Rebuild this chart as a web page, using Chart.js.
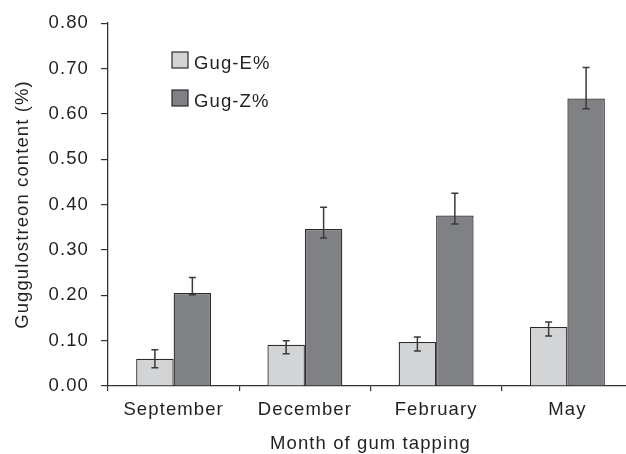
<!DOCTYPE html>
<html>
<head>
<meta charset="utf-8">
<script src="https://cdn.jsdelivr.net/npm/chart.js@4/dist/chart.umd.min.js"></script>
<style>
  html, body { margin: 0; padding: 0; background: #ffffff; overflow: hidden; }
  #wrap { width: 640px; height: 454px; position: relative; }
</style>
</head>
<body>
<div id="wrap"><canvas id="c"></canvas></div>
<script>
// Month of gum tapping
const months = ['September', 'December', 'February', 'May'];

// Mean guggulsterone content (%)
const gugE = [0.060, 0.091, 0.097, 0.130];
const gugZ = [0.205, 0.346, 0.376, 0.634];

// Error bar extents above / below each mean
const gugEUp   = [0.020, 0.009, 0.011, 0.011];
const gugEDown = [0.020, 0.020, 0.020, 0.020];
const gugZUp   = [0.034, 0.048, 0.049, 0.068];
const gugZDown = [0.004, 0.020, 0.019, 0.023];

const seriesNames = ['Gug-E%', 'Gug-Z%'];
const yTicks = [0, 0.1, 0.2, 0.3, 0.4, 0.5, 0.6, 0.7, 0.8];

const ink = '#231f20';
const fontFamily = '"Liberation Sans", Arial, Helvetica, sans-serif';
const fontSize = 18.5;
const tracking = '1.1px';

// Slightly open tracking for all canvas text
const textTracking = {
  id: 'textTracking',
  beforeLayout(chart) { chart.ctx.letterSpacing = tracking; },
  beforeDraw(chart) { chart.ctx.letterSpacing = tracking; }
};

const errorBars = {
  id: 'errorBars',
  afterDatasetsDraw(chart) {
    const ctx = chart.ctx;
    const y = chart.scales.y;
    const ups = [gugEUp, gugZUp];
    const downs = [gugEDown, gugZDown];
    ctx.save();
    ctx.strokeStyle = '#3a3a3a';
    ctx.lineWidth = 1.5;
    chart.data.datasets.forEach((ds, di) => {
      const meta = chart.getDatasetMeta(di);
      meta.data.forEach((bar, i) => {
        const v = ds.data[i];
        const x = bar.x;
        const yTop = y.getPixelForValue(v + ups[di][i]);
        const yBot = y.getPixelForValue(v - downs[di][i]);
        const cap = 3.5;
        ctx.beginPath();
        ctx.moveTo(x, yTop); ctx.lineTo(x, yBot);
        ctx.moveTo(x - cap, yTop); ctx.lineTo(x + cap, yTop);
        ctx.moveTo(x - cap, yBot); ctx.lineTo(x + cap, yBot);
        ctx.stroke();
      });
    });
    ctx.restore();
  }
};

const insetLegend = {
  id: 'insetLegend',
  afterDraw(chart) {
    const ctx = chart.ctx;
    ctx.save();
    ctx.font = fontSize + 'px ' + fontFamily;
    ctx.textBaseline = 'alphabetic';
    ctx.textAlign = 'left';
    chart.data.datasets.forEach((ds, i) => {
      const cy = 60 + i * 38;
      ctx.fillStyle = ds.backgroundColor;
      ctx.fillRect(172, cy - 8, 16, 16);
      ctx.strokeStyle = ds.borderColor;
      ctx.lineWidth = 1.2;
      ctx.strokeRect(172, cy - 8, 16, 16);
      ctx.fillStyle = ink;
      ctx.fillText(ds.label, 194, cy + 9);
    });
    ctx.restore();
  }
};

new Chart(document.getElementById('c'), {
  type: 'bar',
  data: {
    labels: months,
    datasets: [
      { label: seriesNames[0], data: gugE, backgroundColor: '#d3d4d6', borderColor: '#2b2b2b', borderWidth: 1.3 },
      { label: seriesNames[1], data: gugZ, backgroundColor: '#808185', borderColor: '#2b2b2b', borderWidth: 1.3 }
    ]
  },
  options: {
    responsive: true,
    maintainAspectRatio: false,
    animation: false,
    layout: { padding: { top: 20, right: 7, left: 0, bottom: 0 } },
    datasets: { bar: { barPercentage: 1.0, categoryPercentage: 0.571 } },
    plugins: { legend: { display: false }, tooltip: { enabled: false } },
    scales: {
      x: {
        offset: true,
        grid: { drawOnChartArea: false, offset: true, tickLength: 5, color: '#333', lineWidth: 1.2 },
        border: { color: '#333', width: 1.3 },
        ticks: { color: ink, font: { size: fontSize, family: fontFamily }, padding: 8, maxRotation: 0, autoSkip: false },
        title: { display: true, text: 'Month of gum tapping', color: ink,
                 font: { size: fontSize, family: fontFamily, lineHeight: 0.6 }, padding: { top: 0, bottom: 5 } },
        afterFit(scale) { scale.height = 68; }
      },
      y: {
        min: 0,
        max: 0.8,
        afterBuildTicks(scale) { scale.ticks = yTicks.map(v => ({ value: v })); },
        grid: { drawOnChartArea: false, tickLength: 7, color: '#333', lineWidth: 1.2 },
        border: { color: '#333', width: 1.3 },
        ticks: { color: ink, font: { size: fontSize, family: fontFamily }, padding: 12,
                 callback: v => Number(v).toFixed(2) },
        title: { display: true, text: 'Guggulostreon content (%)', color: ink,
                 font: { size: fontSize, family: fontFamily, lineHeight: 1.2 }, padding: { top: 12, bottom: 0 } },
        afterFit(scale) { scale.width = 108; }
      }
    }
  },
  plugins: [textTracking, errorBars, insetLegend]
});
</script>
</body>
</html>
